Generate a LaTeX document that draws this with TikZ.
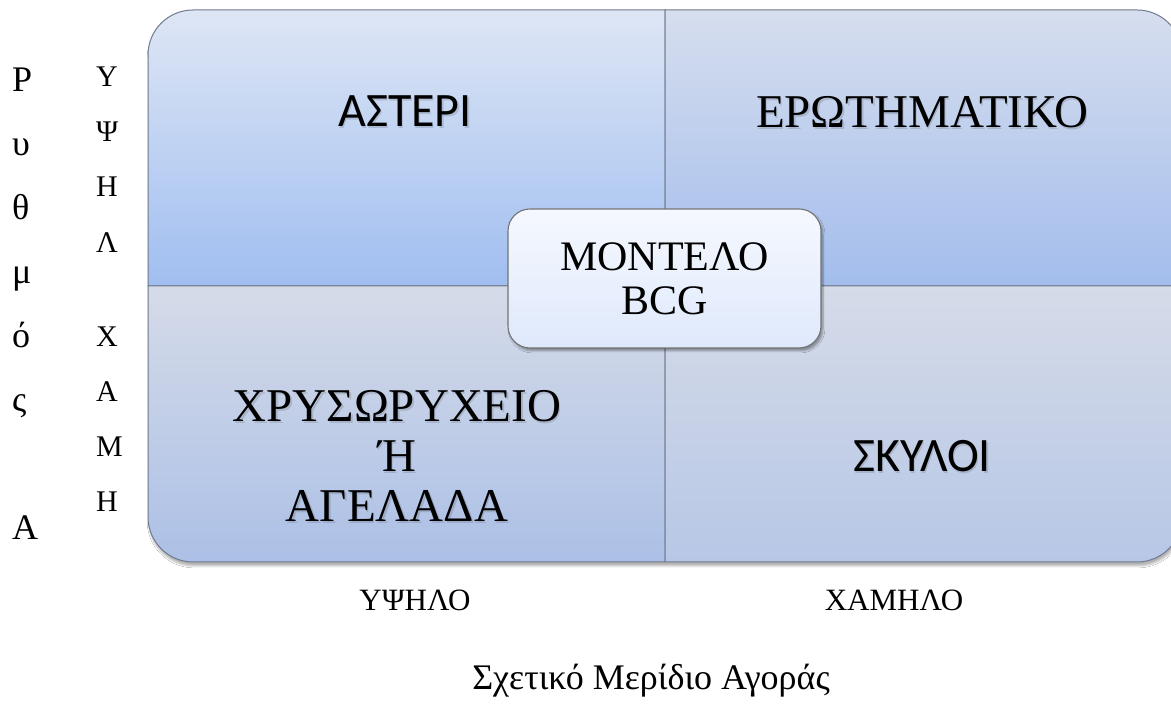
\documentclass[tikz,border=0pt]{standalone}
\usepackage{fontspec}
\setmainfont{Liberation Serif}
\newfontfamily\calibfont{Carlito}
\usetikzlibrary{shadows,shadows.blur}

% quadrant shading colours
\definecolor{tlTop}{RGB}{222,230,245}
\definecolor{tlBot}{RGB}{160,190,240}
\definecolor{trTop}{RGB}{214,222,238}
\definecolor{trBot}{RGB}{163,189,236}
\definecolor{blTop}{RGB}{213,219,232}
\definecolor{blBot}{RGB}{172,192,230}
\definecolor{brTop}{RGB}{213,219,232}
\definecolor{brBot}{RGB}{183,199,230}
\definecolor{quadline}{RGB}{112,122,142}
\definecolor{boxTop}{RGB}{245,248,254}
\definecolor{boxBot}{RGB}{223,233,252}
\definecolor{boxline}{RGB}{115,115,115}

\begin{document}
\begin{tikzpicture}[x=1pt,y=1pt,
  quad/.style={draw=quadline, line width=1pt},
  serifbig/.style={font=\fontsize{47}{50}\selectfont, inner sep=0pt, anchor=base},
  sansbig/.style={font=\calibfont\fontsize{48}{50}\selectfont, inner sep=0pt, anchor=base},
  txtshadow/.style={text=black, opacity=0.13},
  axislabel/.style={font=\fontsize{31}{34}\selectfont, inner sep=0pt, anchor=base},
  colA/.style={font=\fontsize{36}{38}\selectfont, inner sep=0pt, anchor=base west},
  colB/.style={font=\fontsize{30}{32}\selectfont, inner sep=0pt, anchor=base west},
  centerbox/.style={draw=boxline, line width=1.1pt, rounded corners=22pt,
    top color=boxTop, bottom color=boxBot,
    blur shadow={shadow xshift=2pt, shadow yshift=-3pt, shadow blur steps=6, shadow opacity=35},
    minimum width=313pt, minimum height=139pt, align=center,
    font=\fontsize{42}{44}\selectfont, inner sep=0pt}]
\useasboundingbox (0,0) rectangle (1171,706);
\fill[white] (0,0) rectangle (1171,706);
\clip (0,0) rectangle (1171,706);

% soft shadow behind the whole matrix
\path[fill=white, rounded corners=45pt,
  blur shadow={shadow xshift=1pt, shadow yshift=-4pt, shadow blur steps=8, shadow opacity=30}]
  (148,144) rectangle (1182,696);

% the four quadrants, each with its own rounded outer corner
\path[quad, top color=tlTop, bottom color=tlBot]
  (665,420) -- (148,420) -- (148,651) arc[start angle=180, end angle=90, radius=45] -- (665,696) -- cycle;
\path[quad, top color=trTop, bottom color=trBot]
  (665,420) -- (665,696) -- (1137,696) arc[start angle=90, end angle=0, radius=45] -- (1182,420) -- cycle;
\path[quad, top color=blTop, bottom color=blBot]
  (665,420) -- (148,420) -- (148,189) arc[start angle=180, end angle=270, radius=45] -- (193,144) -- (665,144) -- cycle;
\path[quad, top color=brTop, bottom color=brBot]
  (665,420) -- (665,144) -- (1137,144) arc[start angle=270, end angle=360, radius=45] -- (1182,420) -- cycle;

% quadrant labels (with a faint text shadow)
\node[sansbig, txtshadow] (starsh) at (406.5,577) {ΑΣΤΕΡΙ};
\node[sansbig] (star) at (405,579) {ΑΣΤΕΡΙ};

\node[serifbig, txtshadow] (questsh) at (923.5,576) {ΕΡΩΤΗΜΑΤΙΚΟ};
\node[serifbig] (quest) at (922,578) {ΕΡΩΤΗΜΑΤΙΚΟ};

\node[serifbig, txtshadow] (cowsha) at (398.5,282) {ΧΡΥΣΩΡΥΧΕΙΟ};
\node[serifbig, txtshadow] (cowshb) at (398.5,232) {Ή};
\node[serifbig, txtshadow] (cowshc) at (398.5,182) {ΑΓΕΛΑΔΑ};
\node[serifbig] (cowa) at (397,284) {ΧΡΥΣΩΡΥΧΕΙΟ};
\node[serifbig] (cowb) at (397,234) {Ή};
\node[serifbig] (cowc) at (397,184) {ΑΓΕΛΑΔΑ};

\node[sansbig, txtshadow] (dogsh) at (923.5,232) {ΣΚΥΛΟΙ};
\node[sansbig] (dogs) at (922,234) {ΣΚΥΛΟΙ};

% central title box
\node[centerbox] (bcg) at (664.5,427.5) {ΜΟΝΤΕΛΟ\\BCG};

% horizontal axis labels
\node[axislabel] (high) at (415,95) {ΥΨΗΛΟ};
\node[axislabel] (low) at (894,95) {ΧΑΜΗΛΟ};
\node[font=\fontsize{36}{38}\selectfont, inner sep=0pt, anchor=base] (share) at (651,16) {Σχετικό Μερίδιο Αγοράς};

% vertical axis title, one letter per line
\node[colA] (ra) at (12,614) {Ρ};
\node[colA] (rb) at (12,550) {υ};
\node[colA] (rc) at (12,486) {θ};
\node[colA] (rd) at (12,422) {μ};
\node[colA] (re) at (12,358) {ό};
\node[colA] (rf) at (12,294) {ς};
\node[colA] (rg) at (12,166) {Α};

% vertical axis levels
\node[colB] (ha) at (96,619) {Υ};
\node[colB] (hb) at (96,564) {Ψ};
\node[colB] (hc) at (96,509) {Η};
\node[colB] (hd) at (96,453) {Λ};
\node[colB] (la) at (96,359) {Χ};
\node[colB] (lb) at (96,304) {Α};
\node[colB] (lc) at (96,249) {Μ};
\node[colB] (ld) at (96,194) {Η};
\end{tikzpicture}
\end{document}
